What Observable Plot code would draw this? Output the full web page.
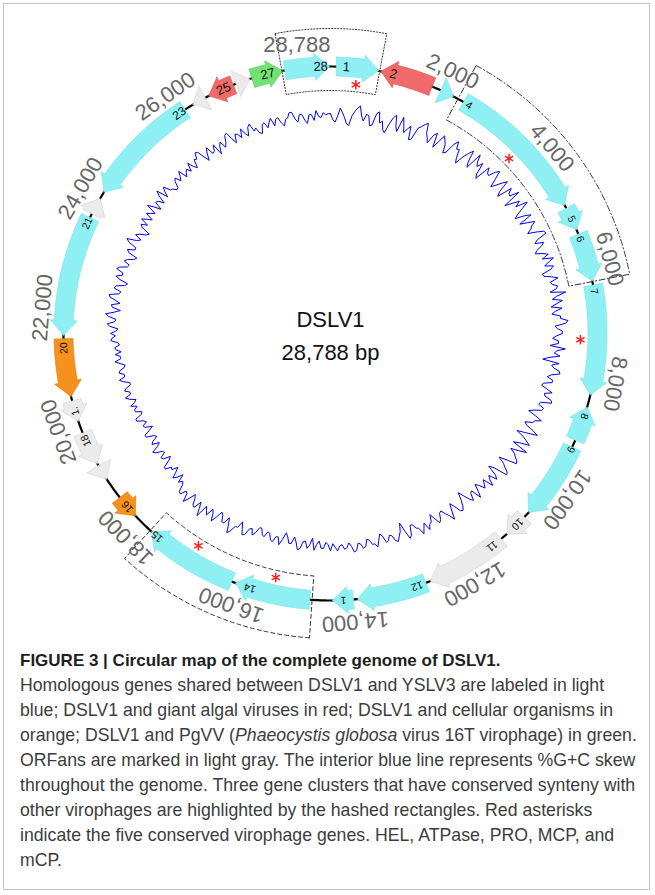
<!DOCTYPE html>
<html><head><meta charset="utf-8">
<script src="https://cdn.jsdelivr.net/npm/d3@7"></script>
<script src="https://cdn.jsdelivr.net/npm/@observablehq/plot@0.6"></script>
<style>
body{margin:0;background:#fff;width:655px;height:895px;position:relative;overflow:hidden;font-family:"Liberation Sans",Arial,sans-serif}
#frame{position:absolute;left:3px;top:3px;width:647px;height:887px;border:1px solid #c4c4c4;box-sizing:border-box}
#chart{position:absolute;left:0;top:0}
#caption{position:absolute;left:20px;top:648px;width:632px;font-family:"Liberation Sans Narrow","Arial Narrow",sans-serif;font-size:17.7px;line-height:25px;color:#3c3c3c;white-space:nowrap}
#caption b{color:#1e1e1e;font-size:17px}
</style></head><body>
<div id="frame"></div>
<div id="chart"></div>
<div id="caption"><b>FIGURE 3 | Circular map of the complete genome of DSLV1.</b><br>Homologous genes shared between DSLV1 and YSLV3 are labeled in light<br>blue; DSLV1 and giant algal viruses in red; DSLV1 and cellular organisms in<br>orange; DSLV1 and PgVV (<i>Phaeocystis globosa</i> virus 16T virophage) in green.<br>ORFans are marked in light gray. The interior blue line represents %G+C skew<br>throughout the genome. Three gene clusters that have conserved synteny with<br>other virophages are highlighted by the hashed rectangles. Red asterisks<br>indicate the five conserved virophage genes. HEL, ATPase, PRO, MCP, and<br>mCP.</div>
<script>
// ---------------- data ----------------
const genomeLength = 28788;
const genomeName = "DSLV1";
const genomeSizeLabel = "28,788 bp";

const geneStart  = [100, 870, 1950, 2390, 4960, 5450, 6360, 8480, 9210, 10670, 11220, 12720, 14000, 14750, 16130, 18150, 18950, 19260, 20060, 20500, 21560, 23720, 24150, 26310, 26620, 27130, 27420, 28000];
const geneEnd    = [830, 1790, 2190, 4900, 5370, 6290, 8260, 9080, 10560, 11090, 12640, 13930, 14360, 16060, 17760, 18560, 19220, 19840, 20420, 21500, 23650, 24020, 26150, 26550, 27080, 27380, 27960, 28770];
const geneStrand = [1, -1, 1, 1, 1, 1, 1, -1, 1, 1, 1, 1, 1, 1, 1, -1, -1, -1, -1, -1, -1, 1, -1, -1, -1, 1, 1, 1];
const geneGroup  = ["YSLV3","algal","YSLV3","YSLV3","YSLV3","YSLV3","YSLV3","YSLV3","YSLV3","ORFan","ORFan","YSLV3","YSLV3","YSLV3","YSLV3","cellular","ORFan","ORFan","ORFan","cellular","YSLV3","ORFan","YSLV3","ORFan","algal","ORFan","PgVV","YSLV3"];
const geneLabel  = ["1","2","","4","5","6","7","8","9","10","11","12","1","14","15","16","","18","1.","20","21","","23","","25","","27","28"];
const geneLabelAt = [270, 1090, null, 2500, 5165, 5540, 6470, 8640, 9260, 10840, 11420, 12880, 14170, 15800, 17630, 18355, null, 19700, 20240, 21340, 23540, null, 26030, null, 26900, null, 27700, 28620];
const conservedGenes = [1, 4, 7, 14, 15];   // HEL, ATPase, PRO, MCP, mCP

const clusterStart = [27950, 2280, 14710];
const clusterEnd   = [28788 + 850, 6300, 17790];

const tickValues = [2000, 4000, 6000, 8000, 10000, 12000, 14000, 16000, 18000, 20000, 22000, 24000, 26000];
const tickLabels = ["2,000","4,000","6,000","8,000","10,000","12,000","14,000","16,000","18,000","20,000","22,000","24,000","26,000"];
const endTickValue = 28788;
const endTickLabel = "28,788";

// %G+C skew (x100), one value per ~50 bp
const gcSkewQ1 = [4,-1,-3,2,9,5,1,-4,-5,3,7,10,12,4,0,6,5,-3,-2,8,10,1,3,-4,-6,2,8,11,2,-2,11,5,
  -1,3,6,-5,-4,7,9,12,14,6,3,-1,7,10,-2,4,11,8,5,-2,0,9,13,7,8,1,-3,5,10,14,4,0,15,9,6,11,1,-2,12,8,
  7,13,16,9,2,6,11,15,5,1,14,10,9,17,1,7,13,8,18,12,6,2,10,15,3,9,15,11,9,5,12,18,19,10,7,14,11,6,4,10,
  14,8,17,12,8,15,12,4,5,11,16,9,10,14,13,7,20,12,8,16,11,6,15,9,6,13,13,19,17,8,10,14];
const gcSkewQ2 = [14,9,6,11,11,4,17,10,8,13,4,-1,13,7,9,14,15,8,5,10,10,3,2,7,12,6,7,13,14,5,4,9,
  8,2,-2,5,11,6,5,-1,1,8,13,4,-4,3,7,11,3,-2,12,6,-1,4,6,9,10,2,-5,1,4,8,9,-3,-7,2,5,-2,1,6,-3,0,
  3,-2,-5,1,6,-3,-2,4,1,-4,-9,-3,2,5,4,-2,-6,0,7,2,-1,-5,-4,1,3,-2,-7,-1,0,4,-3,1,5,-1,-2,-6,-6,2,4,-3,
  -11,-4,-1,3,2,-3,-4,0,1,-5,-7,-2,3,0,0,-4,-5,1,2,-2,-3,3,4,-1,-4,0,1,-3,-2,2,-1,-4];
const gcSkewQ3 = [2,-3,-5,0,0,-6,-3,2,-8,-2,1,-5,-4,2,3,-3,-7,-1,-1,-6,-9,-3,2,-4,-4,1,0,-5,-6,-1,-2,-7,
  -7,-2,1,-4,-3,3,4,-1,-6,0,0,5,8,1,-4,2,2,-3,-5,1,6,0,-3,4,1,-2,9,3,-2,5,4,-1,-4,2,7,0,-1,4,3,-3,
  -5,-2,-9,-4,-1,-6,-10,-5,-6,-1,-2,-8,-11,-5,-4,-9,-8,-3,-1,-7,-10,-4,-6,-11,-9,-3,-3,-8,-12,-6,-5,-9,-7,-2,-2,-8,-9,-4,-4,-7,
  -2,-6,-8,-3,0,-5,-5,-1,-3,-7,-7,-2,1,-4,-4,0,-1,-5,-6,-2,2,-3,-3,1,-4,0,1,-3,-2,4,3,0];
const gcSkewQ4 = [4,0,-2,5,7,1,0,6,9,2,-3,4,5,-2,2,7,8,0,-1,5,4,-3,-5,2,6,1,1,7,5,-1,-2,3,
  1,-4,-6,2,4,-2,-2,5,8,0,-3,3,0,-5,-7,1,3,-2,5,1,-3,4,1,-2,7,2,-4,3,2,-3,4,8,-2,3,6,0,-1,-4,-3,2,4,-1,2,6,-2,1,3,-1,
  6,1,-2,5,4,9,8,2,-3,3,7,0,1,6,-4,2,5,-1,2,8,9,3,-2,5,4,0,7,2,-1,6,8,1,3,-2,-3,4,5,0,4,7,
  0,5,6,1,-2,3,4,8,8,2,-1,5,5,0,-3,4,4,-1,7,2,1,5,3,4];

// ---------------- geometry ----------------
const groupFill   = {YSLV3:"#8ef0f2", algal:"#f06a6a", cellular:"#f5911c", PgVV:"#72e272", ORFan:"#ebebeb"};
const groupStroke = {YSLV3:"#7fe4e7", algal:"#dc5a5a", cellular:"#e3800f", PgVV:"#5ccd5c", ORFan:"#d6d6d6"};

const R = 267, bodyHalf = 9.5, headHalf = 13.5;
const ang = d3.scaleLinear().domain([0, genomeLength]).range([0, 2 * Math.PI]);
const headBp = 15 / R / (2 * Math.PI) * genomeLength;
const pt = (pos, r) => ({x: r * Math.sin(ang(pos)), y: -r * Math.cos(ang(pos))});
const deg = pos => ang(pos) * 180 / Math.PI;
function arc(p0, p1, r) {
  const n = Math.max(1, Math.ceil(Math.abs(p1 - p0) / 30));
  return d3.range(n + 1).map(i => pt(p0 + (p1 - p0) * i / n, r));
}

const genes = geneStart.map((s, i) => ({id: i + 1, start: s, end: geneEnd[i], strand: geneStrand[i], group: geneGroup[i], label: geneLabel[i], labelAt: geneLabelAt[i]}));

const genePolys = [];
for (const g of genes) {
  const hl = Math.min(headBp, g.end - g.start);
  let p;
  if (g.strand > 0) {
    const neck = g.end - hl;
    p = [...arc(g.start, neck, R + bodyHalf), pt(neck, R + headHalf), pt(g.end, R), pt(neck, R - headHalf), ...arc(neck, g.start, R - bodyHalf)];
  } else {
    const neck = g.start + hl;
    p = [pt(g.start, R), pt(neck, R + headHalf), ...arc(neck, g.end, R + bodyHalf), ...arc(g.end, neck, R - bodyHalf), pt(neck, R - headHalf)];
  }
  p.push(p[0]);
  p.forEach(q => genePolys.push({...q, id: g.id, group: g.group}));
}

const backbone = arc(0, genomeLength, R);

const bigLabels = new Set([1, 2, 25, 27, 28]);
const labelData = genes.filter(g => g.label).map(g => ({...pt(g.labelAt, R), text: g.label, rot: deg(g.labelAt), size: bigLabels.has(g.id) ? 13 : (g.id === 23 ? 12 : 10.5)}));

const asterisks = conservedGenes.map(id => { const g = genes[id - 1]; return pt((g.start + g.end) / 2, 250); });

const boxIn = 243, boxOut = 305;
const boxes = clusterStart.map((s, i) => {
  const e = clusterEnd[i];
  const p = [...arc(s, e, boxOut), ...arc(e, s, boxIn)];
  p.push(p[0]);
  return p;
});

const gcSkew = [...gcSkewQ1, ...gcSkewQ2, ...gcSkewQ3, ...gcSkewQ4];
const gcSkewStep = genomeLength / gcSkew.length;
const skewR = d3.scaleLinear().domain([-10, 10]).range([203, 227]);
const gcLine = gcSkew.map((v, i) => pt(i * gcSkewStep, skewR(v)));
gcLine.push(gcLine[0]);

const tickR = 289;
const ticks = tickValues.map((v, i) => ({...pt(v, tickR), text: tickLabels[i], rot: deg(v)}));
const endTick = [{...pt(endTickValue, tickR), text: endTickLabel}];

// ---------------- plot ----------------
const geneMarks = Object.keys(groupFill).map(grp =>
  Plot.line(genePolys.filter(d => d.group === grp), {x: "x", y: "y", z: "id", fill: groupFill[grp], stroke: groupStroke[grp], strokeWidth: 0.7, curve: "linear"}));

const dashes = ["1.2,1.8", "6,2.5,1.2,2.5", "4,3"];
const boxMarks = boxes.map((b, i) => Plot.line(b, {x: "x", y: "y", stroke: "#333", strokeWidth: 1, strokeDasharray: dashes[i]}));

const chart = Plot.plot({
  width: 655, height: 645, margin: 0,
  x: {domain: [-330, 325], range: [0, 655], axis: null},
  y: {domain: [-333, 312], range: [0, 645], axis: null},
  style: {fontFamily: "'Liberation Sans', Arial, sans-serif", background: "transparent", overflow: "visible"},
  marks: [
    Plot.line(backbone, {x: "x", y: "y", stroke: "#000", strokeWidth: 2.2}),
    ...geneMarks,
    Plot.text(labelData, {x: "x", y: "y", text: "text", rotate: "rot", fontSize: "size", fill: "#111"}),
    ...boxMarks,
    Plot.dot(asterisks, {x: "x", y: "y", symbol: "asterisk", r: 4.5, stroke: "#ff1e1e", strokeWidth: 1.5}),
    Plot.line(gcLine, {x: "x", y: "y", stroke: "#0000ee", strokeWidth: 1}),
    Plot.text(ticks, {x: "x", y: "y", text: "text", rotate: "rot", fontSize: 22, fill: "#666"}),
    Plot.text(endTick, {x: "x", y: "y", text: "text", textAnchor: "end", fontSize: 22, fill: "#666"}),
    Plot.text([{x: 0, y: 0, t: genomeName}], {x: "x", y: "y", text: "t", dy: -14, fontSize: 22, fill: "#111"}),
    Plot.text([{x: 0, y: 0, t: genomeSizeLabel}], {x: "x", y: "y", text: "t", dy: 19, fontSize: 22, fill: "#111"})
  ]
});
document.getElementById("chart").appendChild(chart);
</script>
</body></html>
